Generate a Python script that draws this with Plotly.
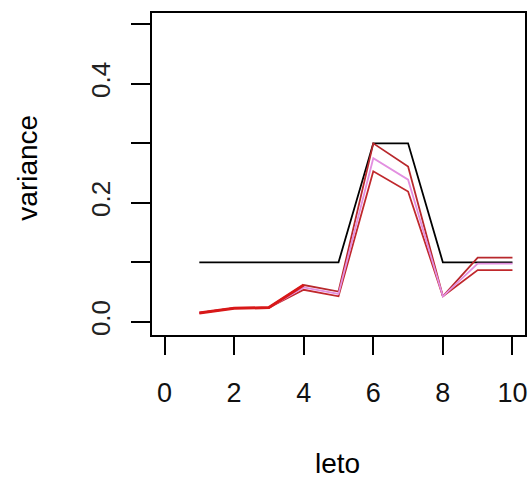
import plotly.graph_objects as go

years = [1, 2, 3, 4, 5, 6, 7, 8, 9, 10]
true_var = [0.1, 0.1, 0.1, 0.1, 0.1, 0.3, 0.3, 0.1, 0.1, 0.1]
upper = [0.015, 0.023, 0.024, 0.062, 0.051, 0.300, 0.261, 0.043, 0.108, 0.108]
middle = [0.015, 0.023, 0.024, 0.058, 0.047, 0.275, 0.239, 0.043, 0.098, 0.098]
lower = [0.015, 0.023, 0.024, 0.054, 0.043, 0.253, 0.219, 0.043, 0.087, 0.087]

xtick_vals = [0, 2, 4, 6, 8, 10]
ytick_vals = [0.0, 0.1, 0.2, 0.3, 0.4, 0.5]
ytick_text = ["0.0", "", "0.2", "", "0.4", ""]

FONT = "Liberation Sans, Arial, sans-serif"

fig = go.Figure()
fig.add_trace(go.Scatter(x=years, y=true_var, mode="lines",
                         line=dict(color="black", width=1.8), showlegend=False))
fig.add_trace(go.Scatter(x=years, y=upper, mode="lines",
                         line=dict(color="#b8282c", width=1.8), showlegend=False))
fig.add_trace(go.Scatter(x=years, y=lower, mode="lines",
                         line=dict(color="#c0282c", width=1.8), showlegend=False))
fig.add_trace(go.Scatter(x=years, y=middle, mode="lines",
                         line=dict(color="#e28fe0", width=1.8), showlegend=False))
# bright red overlap line on shared part
fig.add_trace(go.Scatter(x=years[:4], y=upper[:4], mode="lines",
                         line=dict(color="#d81818", width=3), showlegend=False))

fig.update_layout(
    width=532, height=478,
    margin=dict(l=152, r=5, t=13, b=143),
    paper_bgcolor="white", plot_bgcolor="white",
    font=dict(family=FONT, size=27, color="black"),
    xaxis=dict(range=[-0.36, 10.36], tickvals=xtick_vals,
               ticks="outside", ticklen=18, tickwidth=2, tickcolor="black",
               showline=True, linecolor="black", linewidth=2, mirror=True,
               showgrid=False, zeroline=False,
               ticklabelstandoff=15,
               tickfont=dict(family=FONT, size=27, color="#111")),
    yaxis=dict(range=[-0.022, 0.519], tickvals=ytick_vals, ticktext=ytick_text,
               tickangle=-90,
               ticks="outside", ticklen=19, tickwidth=2, tickcolor="black",
               showline=True, linecolor="black", linewidth=2, mirror=True,
               showgrid=False, zeroline=False,
               ticklabelstandoff=11,
               tickfont=dict(family=FONT, size=26, color="#222")),
    annotations=[
        dict(text="leto", xref="paper", yref="paper", x=0.497, y=-0.398,
             xanchor="center", yanchor="middle", showarrow=False,
             font=dict(family=FONT, size=28, color="black")),
        dict(text="variance", xref="paper", yref="paper", x=-0.333, y=0.519,
             xanchor="center", yanchor="middle", showarrow=False, textangle=-90,
             font=dict(family=FONT, size=28, color="black")),
    ],
)

fig.write_html("out.html")
